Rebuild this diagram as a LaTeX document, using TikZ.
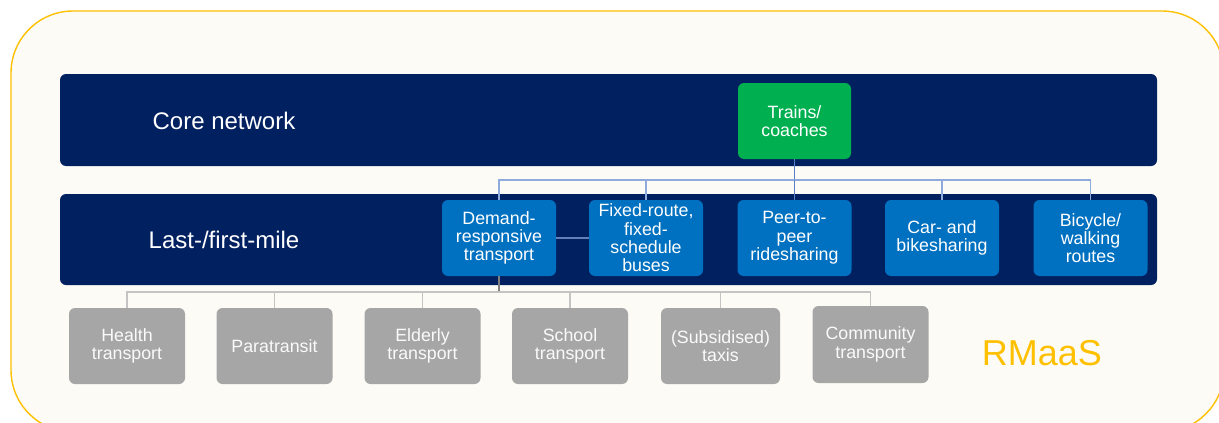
\documentclass[tikz,border=0pt]{standalone}
\usepackage{fontspec}
\setmainfont{Liberation Sans}
\definecolor{navy}{HTML}{002060}
\definecolor{tgreen}{HTML}{00B050}
\definecolor{tblue}{HTML}{0070C0}
\definecolor{tgray}{HTML}{A6A6A6}
\definecolor{gold}{HTML}{FFC000}
\definecolor{bgc}{HTML}{FCFBF6}
\definecolor{linkblue}{HTML}{8FAADC}
\definecolor{linkdark}{HTML}{5B7FC8}
\definecolor{linkgray}{HTML}{C4C4C4}
\begin{document}
\begin{tikzpicture}[x=1pt,y=-1pt,
  bar/.style={fill=navy, rounded corners=6pt, minimum width=1097pt, inner sep=0pt},
  bartext/.style={text=white, font=\fontsize{24}{28}\selectfont},
  box/.style={rounded corners=6pt, minimum width=114pt, minimum height=76pt, inner sep=0pt,
    text=white, align=center, font=\fontsize{17.8}{18.3}\selectfont},
  greenbox/.style={box, fill=tgreen, minimum width=113pt},
  bluebox/.style={box, fill=tblue},
  graybox/.style={box, fill=tgray, minimum width=116pt, text=white!96!gray},
  uplink/.style={draw=linkblue, line width=1.3pt},
  downlink/.style={draw=linkgray, line width=1.3pt}
]
\useasboundingbox (0,0) rectangle (1219,423);
\fill[white] (0,0) rectangle (1219,423);
\draw[fill=bgc, draw=gold, line width=1.4pt, rounded corners=62pt] (11,11) rectangle (1224,432);

\node[bar, minimum height=92pt] (core) at (608.5,120) {};
\node[bar, minimum height=91pt] (last) at (608.5,239.5) {};
\node[bartext] (coretxt) at (224,121) {Core network};
\node[bartext] (lasttxt) at (224,240) {Last-/first-mile};

\node[greenbox] (trains) at (794.5,121) {Trains/\\coaches};

\node[bluebox] (dem) at (499,238) {Demand-\\responsive\\transport};
\node[bluebox] (fix) at (646,238) {Fixed-route,\\fixed-\\schedule\\buses};
\node[bluebox] (peer) at (794.5,238) {Peer-to-\\peer\\ridesharing};
\node[bluebox] (car) at (942,238) {Car- and\\bikesharing};
\node[bluebox] (bike) at (1090.5,238) {Bicycle/\\walking\\routes};

\node[graybox] (health) at (127,346) {Health\\transport};
\node[graybox] (para) at (274.5,346) {Paratransit};
\node[graybox] (elder) at (422.5,346) {Elderly\\transport};
\node[graybox] (school) at (570,346) {School\\transport};
\node[graybox, minimum width=119pt] (taxi) at (720.5,346) {(Subsidised)\\taxis};
\node[graybox, minimum height=77pt] (comm) at (870.5,344.5) {Community\\transport};

\node[text=gold, font=\fontsize{36}{40}\selectfont] (rmaas) at (1042,353) {RMaaS};

% top connectors
\coordinate (tj) at (794.5,180);
\draw[draw=linkdark, line width=1.3pt] (trains.south) -- (tj);
\draw[uplink] (dem.north) |- (tj);
\draw[uplink] (fix.north) |- (tj);
\draw[draw=linkdark, line width=1.3pt] (peer.north) -- (tj);
\draw[uplink] (car.north) |- (tj);
\draw[uplink] (bike.north) |- (tj);

% side link
\draw[draw=linkdark!80!gray, line width=1.3pt] (dem.east) -- (fix.west);

% bottom connectors
\coordinate (bj) at (499,292);
\draw[draw=gray, line width=1.3pt] (dem.south) -- (bj);
\draw[downlink] (health.north) |- (bj);
\draw[downlink] (para.north) |- (bj);
\draw[downlink] (elder.north) |- (bj);
\draw[downlink] (school.north) |- (bj);
\draw[downlink] (taxi.north) |- (bj);
\draw[downlink] (comm.north) |- (bj);
\end{tikzpicture}
\end{document}
